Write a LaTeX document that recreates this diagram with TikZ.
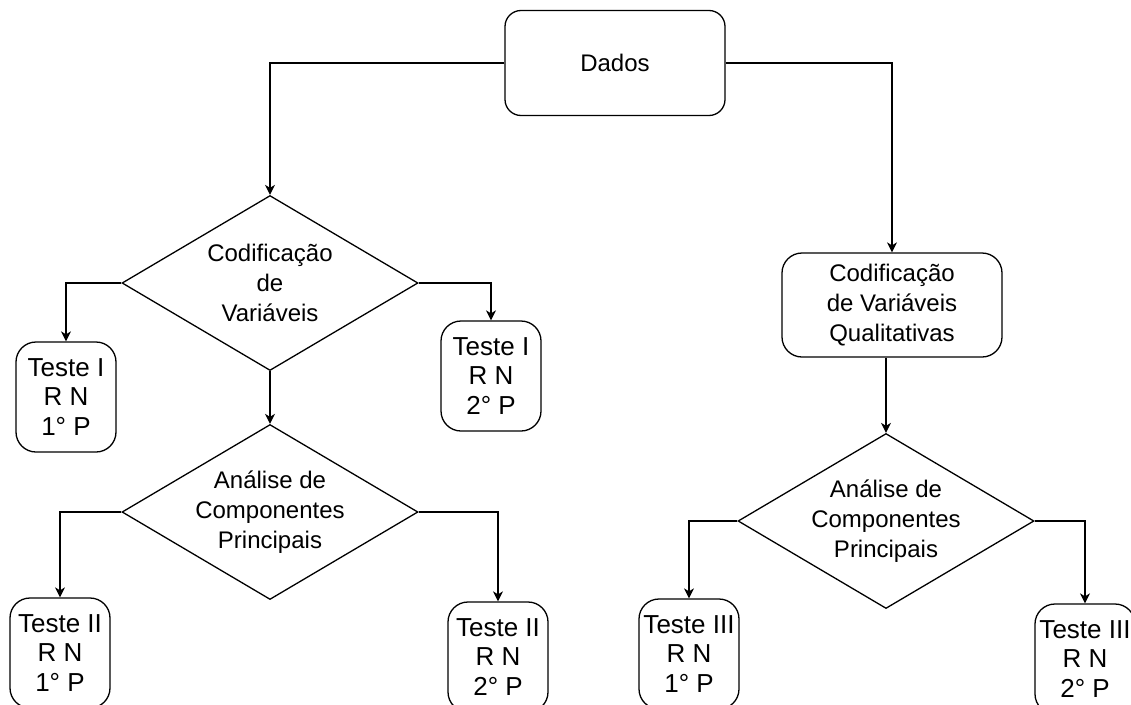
\documentclass[tikz,border=0pt]{standalone}
\usepackage{fontspec}
\setmainfont{Liberation Sans}
\usetikzlibrary{shapes.geometric,arrows.meta}
\begin{document}
\begin{tikzpicture}[x=1pt,y=-1pt,
  every node/.style={font=\fontsize{24}{30}\selectfont, align=center, line width=1.3pt},
  rbox/.style={draw, rounded corners=16pt, inner sep=0pt},
  testbox/.style={rbox, rounded corners=20pt, minimum width=100pt, minimum height=110pt, font=\fontsize{26}{29.5}\selectfont},
  choice/.style={draw, diamond, aspect=1.69, minimum width=296pt, minimum height=175pt, inner sep=0pt},
  arr/.style={line width=1.3pt, -{Stealth[length=10pt,width=10pt,inset=3pt]}}]
\useasboundingbox (0,0) rectangle (1131,704);

% start
\node[rbox, minimum width=220pt, minimum height=105pt] (dados) at (615,63) {Dados};

% left branch
\node[choice] (cod) at (270,283) {Codificação\\de\\Variáveis};
\node[testbox] (t1a) at (66,397) {Teste I\\R N\\1° P};
\node[testbox] (t1b) at (491,376) {Teste I\\R N\\2° P};
\node[choice] (acp1) at (270,512) {Análise de\\Componentes\\Principais};
\node[testbox] (t2a) at (60,653) {Teste II\\R N\\1° P};
\node[testbox] (t2b) at (498,657) {Teste II\\R N\\2° P};

% right branch
\node[rbox, rounded corners=20pt, minimum width=220pt, minimum height=104pt] (codq) at (892,305) {Codificação\\de Variáveis\\Qualitativas};
\node[choice] (acp2) at (886,521) {Análise de\\Componentes\\Principais};
\node[testbox] (t3a) at (689,654) {Teste III\\R N\\1° P};
\node[testbox] (t3b) at (1085,659) {Teste III\\R N\\2° P};

% connectors
\draw[arr] (dados.west) -| (cod.north);
\draw[arr] (dados.east) -| (codq.north);
\draw[arr] (cod.west) -| (t1a.north);
\draw[arr] (cod.east) -| (t1b.north);
\draw[arr] (cod.south) -- (acp1.north);
\draw[arr] (acp1.west) -| (t2a.north);
\draw[arr] (acp1.east) -| (t2b.north);
\draw[arr] (codq.south -| acp2.north) -- (acp2.north);
\draw[arr] (acp2.west) -| (t3a.north);
\draw[arr] (acp2.east) -| (t3b.north);
\end{tikzpicture}
\end{document}
